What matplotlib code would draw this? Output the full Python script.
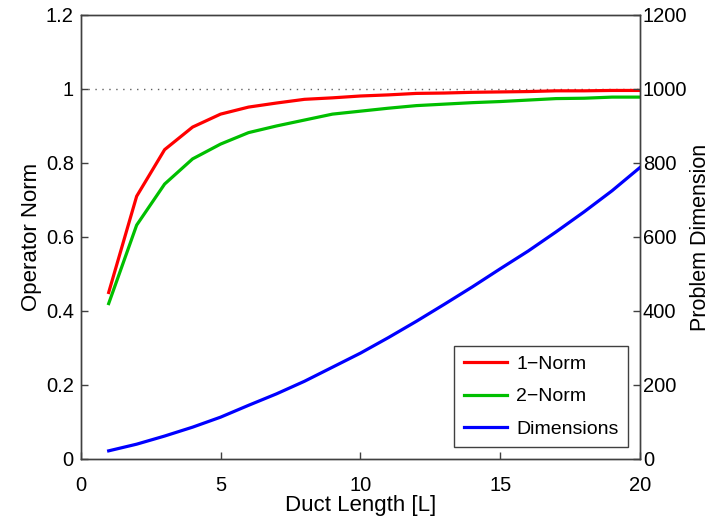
import numpy as np
from matplotlib import pyplot as plt

plt.rcParams['font.family'] = ['Liberation Sans', 'DejaVu Sans']

# duct length sweep and the two operator norms / problem sizes
duct_length = [1, 2, 3, 4, 5, 6, 7, 8, 9, 10, 11, 12, 13, 14, 15, 16, 17, 18, 19, 20]
norm_1 = [0.45, 0.71, 0.836, 0.897, 0.932, 0.951, 0.962, 0.972, 0.976, 0.981,
          0.984, 0.988, 0.989, 0.991, 0.992, 0.993, 0.995, 0.995, 0.996, 0.996]
norm_2 = [0.42, 0.632, 0.743, 0.811, 0.851, 0.882, 0.900, 0.916, 0.932, 0.940,
          0.948, 0.955, 0.959, 0.963, 0.966, 0.970, 0.974, 0.975, 0.978, 0.978]
dimensions = [22, 40, 62, 86, 113, 145, 176, 210, 248, 286,
              328, 372, 418, 465, 514, 562, 614, 668, 725, 788]

left_ticks = [0, 0.2, 0.4, 0.6, 0.8, 1, 1.2]
left_labels = ["0", "0.2", "0.4", "0.6", "0.8", "1", "1.2"]
right_ticks = [0, 200, 400, 600, 800, 1000, 1200]
x_ticks = [0, 5, 10, 15, 20]

frame_col = "#404040"

fig = plt.figure(figsize=(7.13, 5.16), dpi=100)
ax = fig.add_axes([0.1132, 0.1105, 0.7845, 0.8605])
ax2 = ax.twinx()

ax.axhline(1.0, color="#606060", linestyle=(0, (1, 4)), linewidth=1.0, zorder=1)
l1, = ax.plot(duct_length, norm_1, color=(1, 0, 0), linewidth=2.3, label="1\u2212Norm")
l2, = ax.plot(duct_length, norm_2, color=(0, 0.75, 0), linewidth=2.3, label="2\u2212Norm")
l3, = ax2.plot(duct_length, dimensions, color=(0, 0, 1), linewidth=2.3, label="Dimensions")

ax.set_xlim(0, 20)
ax.set_ylim(0, 1.2)
ax2.set_ylim(0, 1200)
ax.set_xticks(x_ticks)
ax.set_yticks(left_ticks)
ax.set_yticklabels(left_labels)
ax2.set_yticks(right_ticks)

for a in (ax, ax2):
    for s in a.spines.values():
        s.set_color(frame_col)
        s.set_linewidth(1.0)
ax.tick_params(axis="y", direction="in", length=5, width=1.0, color=frame_col,
               labelsize=14.5, pad=5)
ax.tick_params(axis="x", direction="in", length=5, width=1.0, color=frame_col,
               labelsize=14.5, pad=12)
ax2.tick_params(axis="y", direction="in", length=5, width=1.0, color=frame_col,
                labelsize=14.5, pad=2)

ax.set_xlabel("Duct Length [L]", fontsize=16, labelpad=0)
ax.set_ylabel("Operator Norm", fontsize=16, labelpad=3)
ax2.set_ylabel("Problem Dimension", fontsize=15.5, labelpad=2)

leg = ax2.legend(handles=[l1, l2, l3], loc="lower right", fontsize=14,
                 fancybox=False, framealpha=1, edgecolor=frame_col,
                 handlelength=2.2, borderaxespad=0.6, labelspacing=0.75,
                 borderpad=0.5, handletextpad=0.5)
leg.get_frame().set_linewidth(1.0)

fig.savefig("out.png", dpi=100)
